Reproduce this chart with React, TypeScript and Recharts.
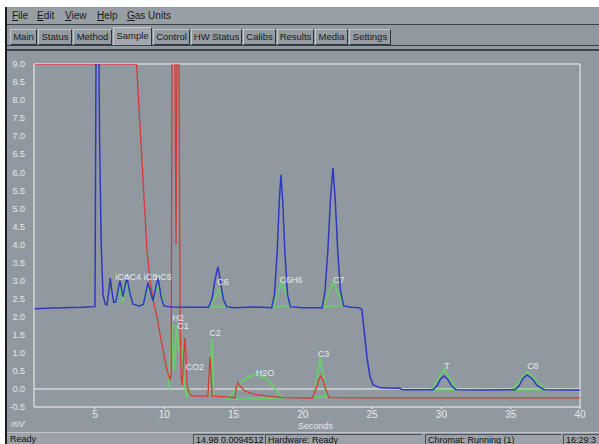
import { LineChart, Line, XAxis, YAxis, ReferenceLine, ReferenceDot } from 'recharts'

// blue channel (time in seconds, signal in mV)
const blueT = [0.6, 2.0, 4.0, 5.0, 5.08, 5.28, 5.33, 5.45, 5.58, 5.75, 5.87, 6.0, 6.1, 6.22, 6.35, 6.5, 6.8, 7.02, 7.3, 7.55, 7.74, 8.2, 8.5, 8.82, 9.18, 9.55, 9.8, 9.98, 10.5, 12.0, 13.2, 13.45, 13.65, 13.87, 14.05, 14.25, 14.5, 15.0, 16.5, 17.75, 17.95, 18.15, 18.3, 18.42, 18.55, 18.7, 18.9, 19.1, 20.0, 21.4, 21.6, 21.8, 22.0, 22.17, 22.33, 22.52, 22.72, 22.95, 23.5, 24.05, 24.26, 24.4, 24.62, 24.84, 25.06, 25.56, 27.0, 27.15, 29.4, 29.7, 29.95, 30.18, 30.45, 30.75, 31.05, 33.0, 35.3, 35.6, 35.9, 36.17, 36.5, 36.9, 37.4, 40.0]
const blueV = [2.22, 2.24, 2.26, 2.28, 9.5, 9.5, 7.0, 4.0, 2.6, 2.35, 2.33, 2.7, 3.07, 2.7, 2.4, 2.4, 3.0, 2.55, 3.1, 2.6, 2.35, 2.3, 2.35, 2.94, 2.45, 3.07, 2.5, 2.3, 2.27, 2.26, 2.26, 2.5, 3.0, 3.38, 3.0, 2.5, 2.28, 2.25, 2.27, 2.25, 2.6, 3.8, 5.2, 5.93, 5.2, 3.8, 2.6, 2.28, 2.25, 2.25, 2.7, 3.8, 5.3, 6.12, 5.3, 3.8, 2.7, 2.3, 2.26, 2.25, 2.2, 1.7, 0.9, 0.35, 0.12, 0.03, 0.02, -0.02, -0.02, 0.1, 0.28, 0.36, 0.27, 0.08, -0.02, -0.03, -0.02, 0.08, 0.3, 0.39, 0.3, 0.1, -0.02, -0.03]

// red channel
const redT = [0.6, 8.0, 8.35, 8.75, 8.97, 9.2, 9.47, 9.7, 9.91, 10.15, 10.41, 10.5, 10.56, 10.76, 10.85, 10.92, 11.06, 11.14, 11.22, 11.3, 11.42, 11.49, 11.56, 11.65, 11.8, 12.0, 13.15, 13.25, 13.3, 13.36, 13.45, 14.5, 15.1, 15.2, 15.3, 15.45, 15.8, 16.5, 17.5, 18.5, 20.7, 20.95, 21.15, 21.3, 21.45, 21.65, 21.9, 25.0, 40.0]
const redV = [9.0, 9.0, 6.6, 3.85, 3.02, 2.45, 2.0, 1.5, 1.08, 0.6, 0.25, 0.4, 9.5, 9.5, 4.0, 9.5, 9.5, 2.0, 0.3, 0.1, 1.0, 1.41, 1.0, 0.05, -0.1, -0.2, -0.2, 0.5, 0.89, 0.5, -0.2, -0.22, -0.25, 0.05, 0.17, 0.08, -0.05, -0.15, -0.2, -0.24, -0.25, 0.0, 0.25, 0.36, 0.25, 0.0, -0.24, -0.25, -0.25]

// green peak marks (null breaks the trace)
const greenT = [6.5, 6.8, 7.0, 7.3, 7.7, 7.7, 8.5, 8.82, 9.18, 9.55, 9.95, 9.95, 13.3, 13.95, 14.5, 13.3, 13.3, 17.8, 18.5, 19.1, 17.8, 17.8, 21.45, 22.2, 22.95, 21.45, 21.45, 10.3, 10.55, 10.7, 10.9, 11.05, 11.25, 11.45, 11.6, 11.8, 12.0, 12.0, 13.2, 13.45, 13.55, 13.55, 14.4, 15.0, 15.6, 16.2, 16.7, 17.3, 17.9, 18.5, 14.4, 14.4, 20.8, 21.25, 21.7, 20.8, 20.8, 29.3, 30.2, 31.1, 29.3, 29.3, 35.1, 36.2, 37.5, 35.1]
const greenV = [2.35, 2.9, 2.4, 3.0, 2.35, null, 2.35, 2.85, 2.45, 2.95, 2.35, null, 2.28, 2.75, 2.28, 2.28, null, 2.28, 2.95, 2.3, 2.28, null, 2.28, 2.95, 2.3, 2.28, null, 0.0, 1.8, 0.5, 1.75, 1.0, 1.2, 0.1, -0.2, 0.0, -0.2, null, -0.2, 1.4, -0.2, null, -0.28, -0.1, 0.2, 0.35, 0.39, 0.3, 0.05, -0.25, -0.28, null, -0.22, 0.86, -0.22, -0.22, null, -0.02, 0.55, -0.02, -0.02, null, -0.02, 0.47, -0.02, -0.02]

const peakNames = ['iC4', 'nC4', 'iC5', 'nC5', 'C6', 'C6H6', 'C7', 'H2', 'C1', 'CO2', 'C2', 'H2O', 'C3', 'T', 'C8']
const peakT = [6.95, 7.72, 9.0, 9.95, 14.24, 19.14, 22.6, 10.99, 11.35, 12.2, 13.66, 17.27, 21.5, 30.4, 36.6]
const peakV = [3.1, 3.1, 3.1, 3.1, 2.96, 3.02, 3.02, 1.97, 1.75, 0.61, 1.55, 0.44, 0.97, 0.64, 0.64]

const xTicks = [5, 10, 15, 20, 25, 30, 35, 40]
const yTicks = [-0.5, 0, 0.5, 1, 1.5, 2, 2.5, 3, 3.5, 4, 4.5, 5, 5.5, 6, 6.5, 7, 7.5, 8, 8.5, 9]

const menuItems = ['File', 'Edit', 'View', 'Help', 'Gas Units']
const tabs = ['Main', 'Status', 'Method', 'Sample', 'Control', 'HW Status', 'Calibs', 'Results', 'Media', 'Settings']

const blueData = blueT.map((t, i) => ({ t, v: blueV[i] }))
const redData = redT.map((t, i) => ({ t, v: redV[i] }))
const greenData = greenT.map((t, i) => ({ t, v: greenV[i] }))

const UI_FONT = '"Liberation Sans", Arial, sans-serif'
const BG = '#9199a0'
const TEXT_LIGHT = '#e6e8ea'

const menuX = [12, 37, 65, 97, 127]
const tabX = [10, 38, 73, 113, 153, 191, 243, 277, 315, 349]
const tabW = [27, 34, 39, 39, 37, 51, 33, 37, 33, 42]

export default function App() {
  return (
    <div style={{ position: 'absolute', left: 0, top: 0, width: 599, height: 444, background: '#ffffff', overflow: 'hidden', fontFamily: UI_FONT }}>
      <div style={{ position: 'absolute', left: 5, top: 7, width: 594, height: 437, background: BG, borderLeft: '2px solid #1a1d20' }} />

      {/* menu bar */}
      <div style={{ position: 'absolute', left: 7, top: 8, width: 592, height: 16, background: '#979ea4' }} />
      {menuItems.map((m, i) => (
        <div key={m} style={{ position: 'absolute', left: menuX[i], top: 10, fontSize: 10, color: '#1a1a1a' }}>
          <span style={{ textDecoration: 'underline' }}>{m[0]}</span>
          {m.slice(1)}
        </div>
      ))}
      <div style={{ position: 'absolute', left: 7, top: 24, width: 592, height: 1, background: '#3c4249' }} />

      {/* tabs */}
      {tabs.map((t, i) => {
        const sel = t === 'Sample'
        return (
          <div
            key={t}
            style={{
              position: 'absolute',
              left: tabX[i],
              top: sel ? 27 : 29,
              width: tabW[i],
              height: sel ? 19 : 16,
              boxSizing: 'border-box',
              background: sel ? '#a2a8ae' : '#949ba1',
              borderTop: '1px solid #c4c9cd',
              borderLeft: '1px solid #c4c9cd',
              borderRight: '1px solid #2f3439',
              borderBottom: sel ? 'none' : '1px solid #2f3439',
              fontSize: 9.5,
              color: '#1a1a1a',
              textAlign: 'center',
              lineHeight: sel ? '16px' : '14px',
              whiteSpace: 'nowrap',
            }}
          >
            {t}
          </div>
        )
      })}
      <div style={{ position: 'absolute', left: 7, top: 45, width: 592, height: 1, background: '#3c4249' }} />
      <div style={{ position: 'absolute', left: 7, top: 49, width: 592, height: 2, background: '#3c4249' }} />

      {/* chart */}
      <div style={{ position: 'absolute', left: 0, top: 0 }}>
        <LineChart width={599} height={444} margin={{ top: 64, right: 19, left: 4, bottom: 11 }}>
          <XAxis
            dataKey="t"
            type="number"
            domain={[0.6, 40]}
            ticks={xTicks}
            allowDataOverflow
            stroke="#f4f4f4"
            tick={{ fill: TEXT_LIGHT, fontSize: 10, fontFamily: UI_FONT }}
            tickSize={2}
            height={26}
          />
          <YAxis
            type="number"
            domain={[-0.5, 9]}
            ticks={yTicks}
            allowDataOverflow
            width={30}
            stroke="#f4f4f4"
            tickLine={false}
            tickMargin={3}
            tickFormatter={(v: number) => v.toFixed(1)}
            tick={{ fill: TEXT_LIGHT, fontSize: 9, fontFamily: UI_FONT }}
          />
          <ReferenceLine y={0} stroke="#f4f4f4" strokeWidth={1} />
          <ReferenceLine y={9} stroke="#f4f4f4" strokeWidth={1} />
          <ReferenceLine x={40} stroke="#f4f4f4" strokeWidth={1} />
          <Line data={greenData} dataKey="v" type="linear" stroke="#63d263" strokeWidth={2} strokeOpacity={0.85} dot={false} isAnimationActive={false} />
          <Line data={redData} dataKey="v" type="linear" stroke="#d63a3a" strokeWidth={1.3} dot={false} isAnimationActive={false} />
          <Line data={blueData} dataKey="v" type="linear" stroke="#2e39c2" strokeWidth={1.5} dot={false} isAnimationActive={false} />
          {peakNames.map((n, i) => (
            <ReferenceDot
              key={n}
              x={peakT[i]}
              y={peakV[i]}
              r={0}
              fill="none"
              stroke="none"
              label={{ value: n, position: 'center', fill: TEXT_LIGHT, fontSize: 9, fontFamily: UI_FONT }}
            />
          ))}
        </LineChart>
      </div>

      <div style={{ position: 'absolute', left: 11, top: 419, fontSize: 9, color: TEXT_LIGHT, fontStyle: 'italic' }}>mV</div>
      <div style={{ position: 'absolute', left: 298, top: 421, fontSize: 9, color: TEXT_LIGHT }}>Seconds</div>

      {/* status bar */}
      <div style={{ position: 'absolute', left: 7, top: 432, width: 592, height: 12, background: '#9ca2a8', borderTop: '1px solid #c0c5c9' }} />
      <div style={{ position: 'absolute', left: 10, top: 434, fontSize: 9, color: '#111' }}>Ready</div>
      {[
        { x: 193, w: 71, t: '14.98 0.0094512' },
        { x: 265, w: 157, t: 'Hardware: Ready' },
        { x: 425, w: 136, t: 'Chromat: Running (1)' },
        { x: 563, w: 40, t: '16:29:3' },
      ].map((b) => (
        <div
          key={b.t}
          style={{
            position: 'absolute',
            left: b.x,
            top: 434,
            width: b.w,
            height: 10,
            boxSizing: 'border-box',
            borderTop: '1px solid #4a5057',
            borderLeft: '1px solid #4a5057',
            fontSize: 9,
            color: '#111',
            paddingLeft: 2,
            whiteSpace: 'nowrap',
            overflow: 'hidden',
            lineHeight: '10px',
          }}
        >
          {b.t}
        </div>
      ))}
    </div>
  )
}
